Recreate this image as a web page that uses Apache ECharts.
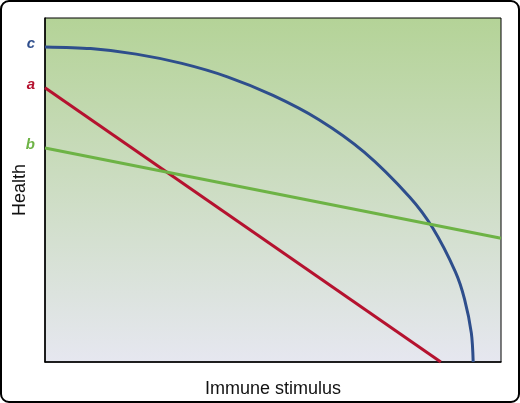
<!DOCTYPE html>
<html><head><meta charset="utf-8">
<script src="https://cdn.jsdelivr.net/npm/echarts@6/dist/echarts.min.js"></script>
<style>html,body{margin:0;padding:0;background:#fff}#c{width:520px;height:403px}</style>
</head><body><div id="c"></div>
<script>
const lineA = [[0, 79.7], [86.8, 0]];
const lineB = [[0, 62.2], [100, 36.0]];
const curveC = [[0, 91.6], [10, 91.1], [20, 89.5], [30, 86.8], [40, 82.9], [50, 77.5], [60, 70.5], [70, 61.0], [80, 47.9], [85, 39.0], [90, 26.2], [92, 18.3], [93.5, 8.4], [93.9, 0]];
const labels = ['a', 'b', 'c'];
const colors = {a: '#b5122f', b: '#6db345', c: '#2e4e8c'};
function mk(name, data, smooth) {
  return {
    type: 'line', data: data.map((d, i) => i === 0 ? {value: d, label: {show: true, position: 'left', distance: 10, offset: [0, -3], formatter: name, color: colors[name], fontStyle: 'italic', fontWeight: 'bold', fontSize: 15, fontFamily: 'Liberation Sans'}} : d),
    smooth: smooth, symbol: 'circle', symbolSize: 0, showAllSymbol: true, clip: false,
    lineStyle: {color: colors[name], width: 3}, itemStyle: {color: colors[name]}, silent: true
  };
}
const chart = echarts.init(document.getElementById('c'));
chart.setOption({
  animation: false,
  grid: {left: 45, right: 19, top: 18, bottom: 41, show: true, borderColor: '#000', borderWidth: 1,
    backgroundColor: new echarts.graphic.LinearGradient(0, 0, 0, 1, [{offset: 0, color: '#b4d397'}, {offset: 1, color: '#e6e7f0'}])},
  xAxis: {type: 'value', min: 0, max: 100, name: 'Immune stimulus', nameLocation: 'middle', nameGap: 18,
    nameTextStyle: {color: '#111', fontSize: 18, fontFamily: 'Liberation Sans Narrow, Liberation Sans'},
    axisLine: {show: true, lineStyle: {color: '#000', width: 1.5}}, axisTick: {show: false}, axisLabel: {show: false}, splitLine: {show: false}},
  yAxis: {type: 'value', min: 0, max: 100, name: 'Health', nameLocation: 'middle', nameGap: 16,
    nameTextStyle: {color: '#111', fontSize: 18, fontFamily: 'Liberation Sans Narrow, Liberation Sans'},
    axisLine: {show: true, lineStyle: {color: '#000', width: 1.5}}, axisTick: {show: false}, axisLabel: {show: false}, splitLine: {show: false}},
  graphic: [{type: 'rect', shape: {x: 1, y: 1, width: 518, height: 401, r: 8}, style: {fill: 'none', stroke: '#000', lineWidth: 2}, silent: true}],
  series: [mk('c', curveC, 0.3), mk('a', lineA, false), mk('b', lineB, false)]
});
</script></body></html>
